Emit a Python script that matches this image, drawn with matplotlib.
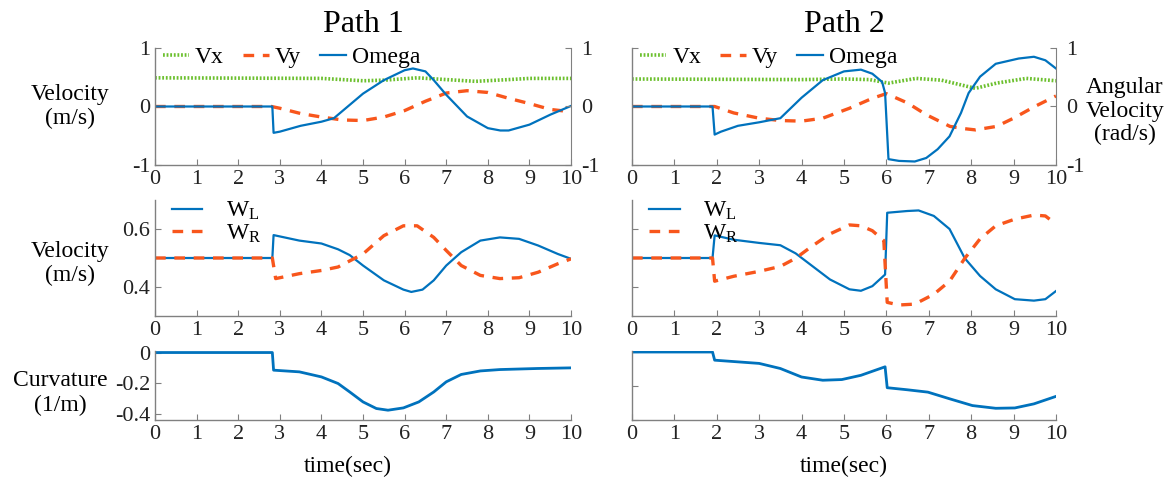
import numpy as np
import matplotlib
matplotlib.use("Agg")
import matplotlib.pyplot as plt

# Fuente tipo Times
plt.rcParams['font.family'] = ['Liberation Serif', 'DejaVu Serif']
plt.rcParams['mathtext.fontset'] = 'custom'
plt.rcParams['mathtext.rm'] = 'Liberation Serif'
plt.rcParams['mathtext.it'] = 'Liberation Serif:italic'
plt.rcParams['axes.unicode_minus'] = False

# Colores
BLUE = '#0072BD'
ORANGE = '#F8561C'
GREEN = '#6CC02E'
GRAY = '#808080'

# ---- Path 1: velocidades (Vx, Vy, Omega) ----
t_vx1 = [0, 4.0, 5.0, 5.5, 6.3, 7.0, 7.7, 8.5, 9.0, 10]
vx1 = [0.49, 0.48, 0.44, 0.45, 0.49, 0.46, 0.43, 0.46, 0.48, 0.48]
t_vy1 = [0, 2.8, 3.0, 3.5, 4.0, 4.5, 5.0, 5.5, 6.0, 6.5, 7.0, 7.5, 8.0, 8.5, 9.0, 9.5, 10]
vy1 = [0, 0, -0.03, -0.12, -0.18, -0.23, -0.24, -0.18, -0.07, 0.09, 0.23, 0.27, 0.24, 0.14, 0.05, -0.05, -0.09]
t_om1 = [0, 2.82, 2.85, 3.0, 3.5, 4.0, 4.3, 4.6, 5.0, 5.5, 6.0, 6.2, 6.5, 6.7, 7.0, 7.5, 8.0, 8.3, 8.5, 9.0, 9.5, 10]
om1 = [0, 0, -0.45, -0.43, -0.33, -0.26, -0.2, -0.02, 0.22, 0.45, 0.62, 0.65, 0.6, 0.45, 0.2, -0.17, -0.37, -0.41, -0.41, -0.31, -0.14, 0.01]

# ---- Path 2: velocidades ----
t_vx2 = [0, 4.0, 5.0, 5.6, 6.05, 6.7, 7.3, 8.1, 8.6, 9.3, 10]
vx2 = [0.47, 0.46, 0.47, 0.46, 0.4, 0.48, 0.45, 0.31, 0.4, 0.48, 0.44]
t_vy2 = [0, 1.95, 2.4, 3.0, 3.5, 4.0, 4.5, 5.13, 5.67, 6.0, 6.5, 6.94, 7.5, 7.85, 8.1, 8.6, 9.0, 9.5, 10]
vy2 = [0, 0, -0.11, -0.2, -0.24, -0.25, -0.2, -0.03, 0.14, 0.22, 0.06, -0.14, -0.34, -0.38, -0.4, -0.34, -0.2, 0.0, 0.18]
t_om2 = [0, 1.9, 1.95, 2.1, 2.5, 3.0, 3.5, 4.0, 4.5, 5.0, 5.4, 5.67, 5.9, 5.97, 6.05, 6.3, 6.67, 6.94, 7.21, 7.49, 7.76, 7.94, 8.21, 8.58, 9.12, 9.48, 9.75, 10]
om2 = [0, 0, -0.48, -0.43, -0.33, -0.27, -0.2, 0.15, 0.45, 0.6, 0.63, 0.56, 0.42, 0.23, -0.9, -0.93, -0.94, -0.88, -0.73, -0.51, -0.11, 0.23, 0.51, 0.73, 0.82, 0.85, 0.79, 0.65]

# ---- Path 1: ruedas ----
t_wl1 = [0, 2.82, 2.85, 3.47, 4.0, 4.4, 4.68, 5.0, 5.5, 5.97, 6.16, 6.43, 6.7, 7.0, 7.36, 7.82, 8.29, 8.75, 9.21, 9.68, 10]
wl1 = [0.5, 0.5, 0.579, 0.56, 0.55, 0.53, 0.51, 0.474, 0.423, 0.391, 0.383, 0.391, 0.423, 0.474, 0.52, 0.56, 0.571, 0.566, 0.543, 0.514, 0.497]
t_wr1 = [0, 2.82, 2.9, 3.47, 4.0, 4.4, 5.0, 5.5, 5.97, 6.3, 6.7, 7.0, 7.36, 7.82, 8.29, 8.75, 9.21, 9.68, 10]
wr1 = [0.5, 0.5, 0.429, 0.446, 0.457, 0.469, 0.514, 0.577, 0.611, 0.611, 0.571, 0.526, 0.474, 0.44, 0.429, 0.432, 0.451, 0.48, 0.497]

# ---- Path 2: ruedas ----
t_wl2 = [0, 1.9, 1.95, 2.4, 3.0, 3.5, 3.86, 4.22, 4.67, 5.13, 5.4, 5.67, 5.97, 6.02, 6.49, 6.76, 7.12, 7.49, 7.85, 8.21, 8.58, 9.03, 9.48, 9.75, 10]
wl2 = [0.5, 0.5, 0.578, 0.563, 0.552, 0.544, 0.516, 0.476, 0.426, 0.392, 0.387, 0.403, 0.443, 0.656, 0.662, 0.664, 0.645, 0.6, 0.499, 0.438, 0.392, 0.358, 0.353, 0.358, 0.386]
t_wr2 = [0, 1.9, 1.95, 2.4, 3.0, 3.5, 3.86, 4.22, 4.67, 5.13, 5.4, 5.67, 5.94, 6.02, 6.3, 6.67, 7.12, 7.49, 7.85, 8.21, 8.58, 9.03, 9.48, 9.75, 10]
wr2 = [0.5, 0.5, 0.42, 0.437, 0.454, 0.471, 0.499, 0.538, 0.583, 0.614, 0.611, 0.594, 0.56, 0.347, 0.338, 0.341, 0.375, 0.42, 0.499, 0.566, 0.611, 0.634, 0.648, 0.645, 0.617]

# ---- Curvatura ----
t_k1 = [0, 2.82, 2.85, 3.47, 4.0, 4.4, 4.68, 5.0, 5.32, 5.6, 5.97, 6.34, 6.7, 7.0, 7.36, 7.82, 8.29, 9.2, 10]
k1 = [0, 0, -0.115, -0.126, -0.159, -0.202, -0.257, -0.322, -0.365, -0.376, -0.361, -0.322, -0.257, -0.191, -0.143, -0.12, -0.111, -0.104, -0.1]
t_k2 = [0, 1.9, 1.95, 3.0, 3.5, 4.0, 4.5, 4.95, 5.4, 5.97, 6.02, 6.49, 6.98, 7.49, 8.03, 8.58, 9.03, 9.48, 10]
k2 = [0, 0, -0.048, -0.067, -0.097, -0.147, -0.166, -0.162, -0.137, -0.087, -0.21, -0.222, -0.236, -0.275, -0.315, -0.331, -0.329, -0.305, -0.261]

x_ticks = list(range(0, 11))

TICK_FS = 16
LAB_FS = 17
LEG_FS = 17


def style(ax, left_labels=True):
	ax.set_xlim(0, 10)
	ax.set_xticks(x_ticks)
	for s in ['top', 'right']:
		ax.spines[s].set_visible(False)
	for s in ['left', 'bottom']:
		ax.spines[s].set_color(GRAY)
		ax.spines[s].set_linewidth(1.0)
	ax.tick_params(direction='in', length=4, color=GRAY, labelsize=TICK_FS, labelcolor='#222222')
	if not left_labels:
		ax.tick_params(axis='y', labelleft=False)


fig = plt.figure(figsize=(11.69, 4.78), dpi=100)

cols = [(0.1326, 0.3559), (0.5406, 0.3627)]
vel_data = [(t_vx1, vx1, t_vy1, vy1, t_om1, om1), (t_vx2, vx2, t_vy2, vy2, t_om2, om2)]
wheel_data = [(t_wl1, wl1, t_wr1, wr1), (t_wl2, wl2, t_wr2, wr2)]
curv_data = [(t_k1, k1), (t_k2, k2)]
curv_lims = [(-0.44, 0.01), (-0.398, 0.006)]

for i, (left, width) in enumerate(cols):
	# Panel superior: velocidades
	ax = fig.add_axes([left, 0.6548, width, 0.2448])
	tvx, vx, tvy, vy, tom, om = vel_data[i]
	ax.plot(tvx, vx, color=GREEN, lw=2.6, linestyle=(0, (0.5, 0.5)), label='Vx')
	ax.plot(tvy, vy, color=ORANGE, lw=2.4, linestyle=(0, (3.2, 2.6)), label='Vy')
	ax.plot(tom, om, color=BLUE, lw=1.6, label='Omega')
	ax.set_ylim(-1, 1)
	ax.set_yticks([-1, 0, 1])
	style(ax, left_labels=(i == 0))
	tw = ax.twinx()
	tw.set_ylim(-1, 1)
	tw.set_yticks([-1, 0, 1])
	for s in ['top', 'left', 'bottom']:
		tw.spines[s].set_visible(False)
	tw.spines['right'].set_color(GRAY)
	tw.tick_params(direction='in', length=4, pad=7, color=GRAY, labelsize=TICK_FS, labelcolor='#222222')
	ax.legend(loc='upper left', bbox_to_anchor=(0.02, 1.01), ncol=3, frameon=False,
		fontsize=LEG_FS, handlelength=1.1, handletextpad=0.25, columnspacing=0.8,
		borderpad=0, borderaxespad=0)
	ax.text(0.5, 1.2, 'Path %d' % (i + 1), transform=ax.transAxes, ha='center', va='center', fontsize=23)
	if i == 0:
		ax.text(-0.205, 0.5, 'Velocity\n(m/s)', transform=ax.transAxes, ha='center', va='center',
			fontsize=LAB_FS, linespacing=1.2)
	else:
		ax.text(1.162, 0.46, 'Angular\nVelocity\n(rad/s)', transform=ax.transAxes, ha='center', va='center',
			fontsize=LAB_FS, linespacing=1.15)

	# Panel medio: ruedas
	ax = fig.add_axes([left, 0.3389, width, 0.2427])
	tl, wl, tr, wr = wheel_data[i]
	ax.plot(tl, wl, color=BLUE, lw=1.6, label=r'W$_{\mathrm{L}}$')
	ax.plot(tr, wr, color=ORANGE, lw=2.4, linestyle=(0, (3.2, 2.6)), label=r'W$_{\mathrm{R}}$')
	ax.set_ylim(0.3, 0.7)
	ax.set_yticks([0.4, 0.6])
	ax.set_yticklabels(['0.4', '0.6'])
	style(ax, left_labels=(i == 0))
	ax.legend(loc='upper left', bbox_to_anchor=(0.04, 1.0), frameon=False, fontsize=LEG_FS,
		handlelength=1.3, handletextpad=1.0, labelspacing=0.0, borderpad=0, borderaxespad=0)
	if i == 0:
		ax.text(-0.205, 0.45, 'Velocity\n(m/s)', transform=ax.transAxes, ha='center', va='center',
			fontsize=LAB_FS, linespacing=1.2)

	# Panel inferior: curvatura
	ax = fig.add_axes([left, 0.1213, width, 0.1444])
	tk, k = curv_data[i]
	ax.plot(tk, k, color=BLUE, lw=2.0)
	ax.set_ylim(*curv_lims[i])
	ax.set_yticks([-0.4, -0.2, 0])
	ax.set_yticklabels(['-0.4', '-0.2', '0'])
	style(ax, left_labels=(i == 0))
	ax.text(0.464 if i == 0 else 0.5, -0.67, 'time(sec)', transform=ax.transAxes, ha='center', va='center',
		fontsize=LAB_FS)
	if i == 0:
		ax.text(-0.228, 0.39, 'Curvature\n(1/m)', transform=ax.transAxes, ha='center', va='center',
			fontsize=LAB_FS, linespacing=1.2)

plt.savefig('out.png', dpi=100)
